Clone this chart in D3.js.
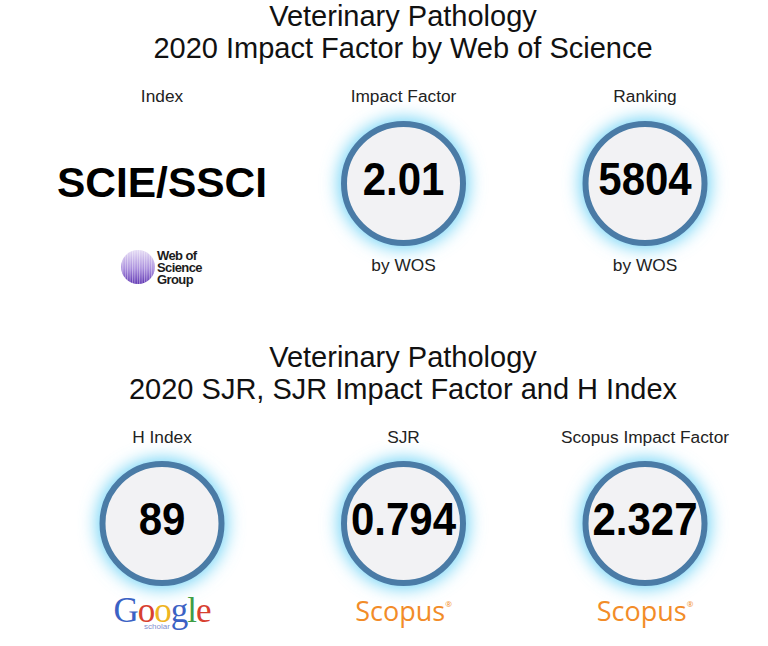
<!DOCTYPE html>
<html>
<head>
<meta charset="utf-8">
<script src="https://cdn.jsdelivr.net/npm/d3@7"></script>
<style>
html, body { margin: 0; padding: 0; background: #fff; }
svg { display: block; }
text { font-family: "Liberation Sans", Arial, sans-serif; fill: #222; }
</style>
</head>
<body>
<script>
let width = 768;
let height = 646;

let columns = ['a', 'b', 'c'];
let rows = ['wos', 'scopus'];

let titles = [
  ['Veterinary Pathology', '2020 Impact Factor by Web of Science'],
  ['Veterinary Pathology', '2020 SJR, SJR Impact Factor and H Index']
];

let wosLabels = ['Index', 'Impact Factor', 'Ranking'];
let wosValues = ['SCIE/SSCI', '2.01', '5804'];
let wosCaptions = ['', 'by WOS', 'by WOS'];

let scopusLabels = ['H Index', 'SJR', 'Scopus Impact Factor'];
let scopusValues = ['89', '0.794', '2.327'];

let googleLetters = ['G', 'o', 'o', 'g', 'l', 'e'];
let googleColors = ['#3b62c4', '#d8402f', '#eeb422', '#3b62c4', '#3f9e45', '#d8402f'];
let wosLogoLines = ['Web of', 'Science', 'Group'];

let xScale = d3.scalePoint().domain(columns).range([162, 645]);
let yScale = d3.scalePoint().domain(rows).range([183.5, 523.5]);

let svg = d3.select('body').append('svg')
  .attr('width', width)
  .attr('height', height);

let defs = svg.append('defs');

let glow = defs.append('filter')
  .attr('id', 'glow')
  .attr('x', '-50%').attr('y', '-50%')
  .attr('width', '200%').attr('height', '200%');
glow.append('feGaussianBlur').attr('stdDeviation', 8.5);

let orb = defs.append('linearGradient')
  .attr('id', 'orb')
  .attr('x1', 0).attr('y1', 0).attr('x2', 0).attr('y2', 1);
orb.append('stop').attr('offset', '0%').attr('stop-color', '#e4daf4');
orb.append('stop').attr('offset', '55%').attr('stop-color', '#a78bdc');
orb.append('stop').attr('offset', '100%').attr('stop-color', '#5a2fb0');

let stripes = defs.append('pattern')
  .attr('id', 'stripes')
  .attr('width', 2.4).attr('height', 20)
  .attr('patternUnits', 'userSpaceOnUse');
stripes.append('rect')
  .attr('width', 1).attr('height', 20)
  .attr('fill', '#fff')
  .attr('opacity', 0.45);

function drawTitle(lines, y) {
  svg.append('text')
    .attr('x', 403)
    .attr('y', y)
    .attr('text-anchor', 'middle')
    .attr('font-size', 29)
    .style('fill', '#111')
    .selectAll('tspan')
    .data(lines)
    .enter()
    .append('tspan')
    .attr('x', 403)
    .attr('dy', function(d, i) { return i ? 32 : 0; })
    .text(function(d) { return d; });
}

function drawLabels(labels, y) {
  svg.selectAll(null)
    .data(labels)
    .enter()
    .append('text')
    .attr('x', function(d, i) { return xScale(columns[i]); })
    .attr('y', y)
    .attr('text-anchor', 'middle')
    .attr('font-size', 17.3)
    .text(function(d) { return d; });
}

function drawGauge(col, row, value) {
  let g = svg.append('g')
    .attr('transform', 'translate(' + xScale(col) + ',' + yScale(row) + ')');
  g.append('circle')
    .attr('r', 65)
    .attr('fill', '#6fd3f6')
    .attr('filter', 'url(#glow)');
  g.append('circle')
    .attr('r', 59.5)
    .attr('fill', '#f2f2f4')
    .attr('stroke', '#4a7ba6')
    .attr('stroke-width', 6);
  // digits in the reference are a little taller than they are wide
  g.append('text')
    .attr('transform', 'translate(0,11) scale(1,1.08)')
    .attr('text-anchor', 'middle')
    .attr('font-size', 42)
    .attr('font-weight', 'bold')
    .style('fill', '#000')
    .text(value);
}

function drawWosLogo(cx, cy) {
  let g = svg.append('g');
  g.append('circle')
    .attr('cx', cx).attr('cy', cy)
    .attr('r', 17)
    .attr('fill', 'url(#orb)');
  g.append('circle')
    .attr('cx', cx).attr('cy', cy)
    .attr('r', 17)
    .attr('fill', 'url(#stripes)');
  g.append('text')
    .attr('font-size', 13)
    .attr('font-weight', 'bold')
    .attr('letter-spacing', -0.6)
    .style('fill', '#1c1c1c')
    .selectAll('tspan')
    .data(wosLogoLines)
    .enter()
    .append('tspan')
    .attr('x', cx + 19)
    .attr('y', function(d, i) { return cy - 7 + i * 12; })
    .text(function(d) { return d; });
}

function drawGoogleLogo(cx, y) {
  let t = svg.append('text')
    .attr('x', cx)
    .attr('y', y)
    .attr('text-anchor', 'middle')
    .attr('font-size', 35)
    .style('font-family', '"Liberation Serif", serif')
    .attr('letter-spacing', -1);
  t.selectAll('tspan.letter')
    .data(googleLetters)
    .enter()
    .append('tspan')
    .attr('class', 'letter')
    .style('fill', function(d, i) { return googleColors[i]; })
    .text(function(d) { return d; });
  t.append('tspan')
    .attr('x', cx - 5)
    .attr('y', y + 7)
    .attr('font-size', 8)
    .attr('letter-spacing', 0)
    .style('font-family', '"Liberation Sans", sans-serif')
    .style('fill', '#7f8fd0')
    .text('scholar');
}

function drawScopusLogo(cx, y) {
  let t = svg.append('text')
    .attr('x', cx)
    .attr('y', y)
    .attr('text-anchor', 'middle')
    .attr('font-size', 27)
    .attr('font-weight', 500)
    .style('font-family', '"Open Sans", sans-serif')
    .style('fill', '#f28c28')
    .text('Scopus');
  t.append('tspan')
    .attr('font-size', 8)
    .attr('dy', -14)
    .text('®');
}

// top block
drawTitle(titles[0], 26);
drawLabels(wosLabels, 102);

svg.append('text')
  .attr('x', xScale('a'))
  .attr('y', 197)
  .attr('text-anchor', 'middle')
  .attr('font-size', 42.5)
  .attr('font-weight', 'bold')
  .style('fill', '#000')
  .text(wosValues[0]);

drawGauge('b', 'wos', wosValues[1]);
drawGauge('c', 'wos', wosValues[2]);

svg.selectAll(null)
  .data(wosCaptions)
  .enter()
  .append('text')
  .attr('x', function(d, i) { return xScale(columns[i]); })
  .attr('y', 271)
  .attr('text-anchor', 'middle')
  .attr('font-size', 17.3)
  .text(function(d) { return d; });

drawWosLogo(138, 267);

// bottom block
drawTitle(titles[1], 367);
drawLabels(scopusLabels, 443);

columns.forEach(function(col, i) {
  drawGauge(col, 'scopus', scopusValues[i]);
});

drawGoogleLogo(xScale('a'), 622);
drawScopusLogo(xScale('b'), 621);
drawScopusLogo(xScale('c'), 621);
</script>
</body>
</html>
